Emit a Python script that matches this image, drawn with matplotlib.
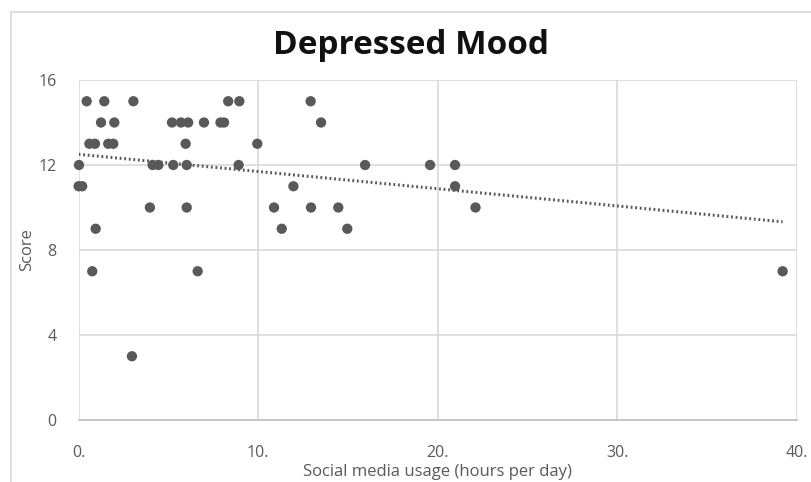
import numpy as np
import matplotlib.pyplot as plt
from matplotlib.patches import Rectangle
from matplotlib.ticker import FuncFormatter

plt.rcParams['font.family'] = ['Open Sans', 'DejaVu Sans']

# hours per day / score, grouped by score row
hours = [0.45, 1.43, 3.05, 8.33, 8.95, 12.92,
         1.25, 1.99, 5.2, 5.7, 6.1, 6.98, 7.9, 8.1, 13.5,
         0.6, 0.91, 1.65, 1.93, 5.96, 9.95,
         0.02, 4.12, 4.44, 5.27, 6.02, 8.91, 15.95, 19.57, 20.96,
         0.0, 0.2, 11.96, 20.96,
         3.97, 6.02, 10.88, 12.94, 14.46, 22.1,
         0.95, 11.31, 14.96,
         0.76, 6.63, 39.2,
         2.97]
score = [15, 15, 15, 15, 15, 15,
         14, 14, 14, 14, 14, 14, 14, 14, 14,
         13, 13, 13, 13, 13, 13,
         12, 12, 12, 12, 12, 12, 12, 12, 12,
         11, 11, 11, 11,
         10, 10, 10, 10, 10, 10,
         9, 9, 9,
         7, 7, 7,
         3]

x_ticks = [0, 10, 20, 30, 40]
y_ticks = [0, 4, 8, 12, 16]

grey = '#595959'
grid = '#d9d9d9'

fig = plt.figure(figsize=(8.11, 4.82), dpi=100)
# chart frame
fig.patches.append(Rectangle((11 / 811, -0.1), 1.0, (482 - 12) / 482 + 0.1,
                             transform=fig.transFigure, fill=False,
                             edgecolor=grid, linewidth=1.2))

ax = fig.add_axes([78.6 / 811, 62 / 482, 718.4 / 811, 340 / 482])
ax.set_xlim(0, 40)
ax.set_ylim(0, 16)
ax.set_xticks(x_ticks)
ax.set_yticks(y_ticks)
ax.xaxis.set_major_formatter(FuncFormatter(lambda v, p: '%d.' % v))
ax.grid(True, color=grid, linewidth=1.2)
ax.set_axisbelow(True)
for s in ['top', 'right', 'left']:
    ax.spines[s].set_visible(False)
ax.spines['bottom'].set_color('#bfbfbf')
ax.spines['bottom'].set_linewidth(1.2)
ax.tick_params(length=0, colors=grey, labelsize=11.5)
ax.tick_params(axis='x', pad=18)
ax.tick_params(axis='y', pad=16)

# linear trend
k, b = np.polyfit(hours, score, 1)
xs = np.array([0, max(hours)])
ax.plot(xs, k * xs + b, color=grey, linewidth=2.2, linestyle=(0, (0.6, 0.9)),
        zorder=2)

ax.scatter(hours, score, s=55, color=grey, edgecolors='none', zorder=3,
           clip_on=False)

# title centred on the whole chart frame
fig.text(411 / 811, 1 - 45 / 482, 'Depressed Mood', fontsize=24,
         fontweight='bold', color='#111111', ha='center', va='center')
ax.set_xlabel('Social media usage (hours per day)', fontsize=12, color=grey,
              labelpad=2)
ax.set_ylabel('Score', fontsize=12, color=grey, labelpad=2)

fig.savefig('out.png', dpi=100)
